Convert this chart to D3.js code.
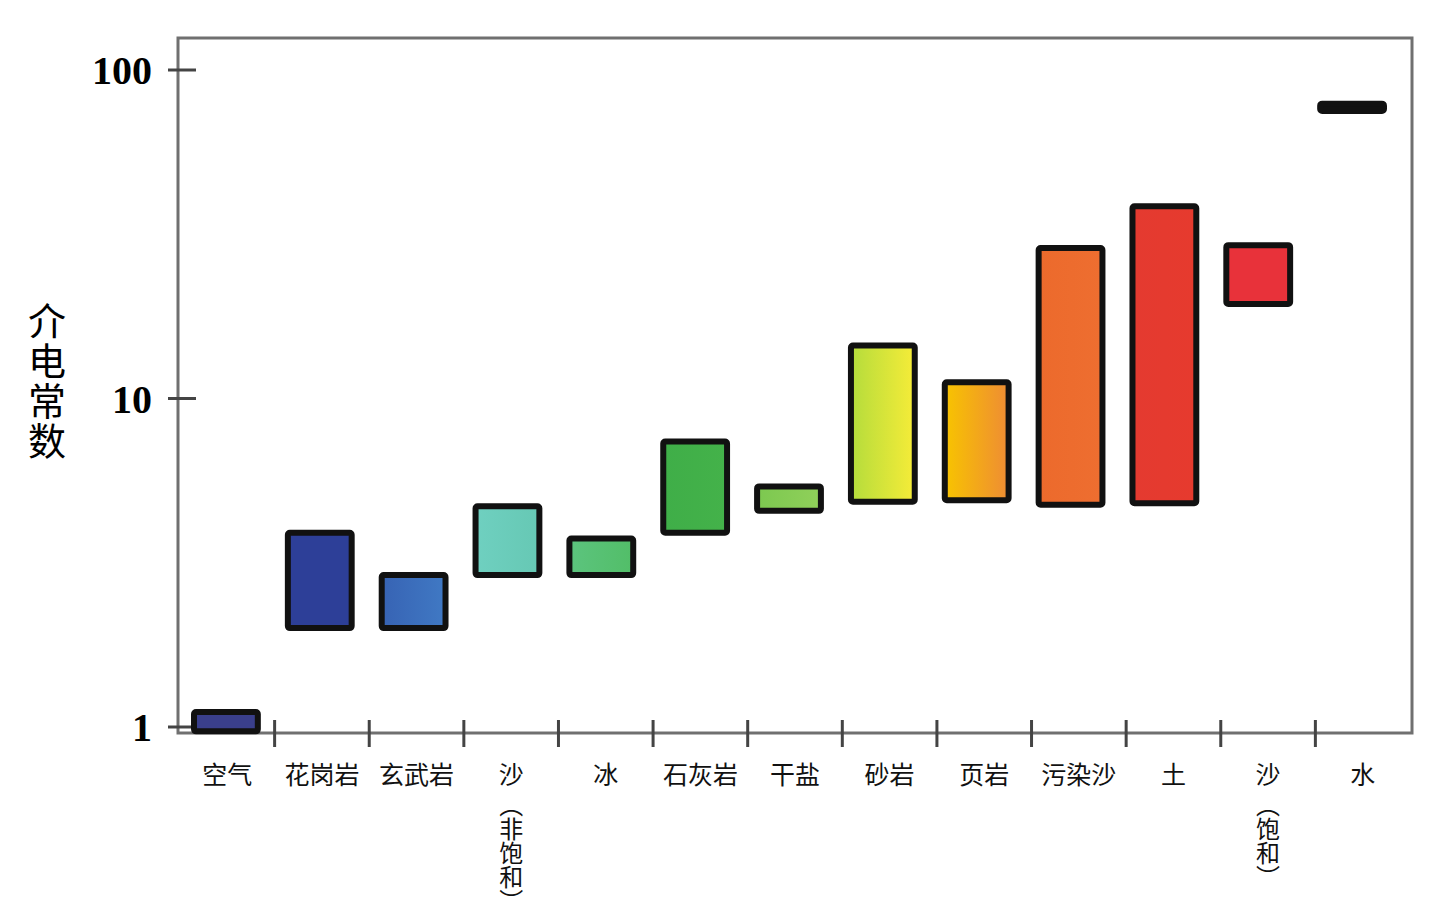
<!DOCTYPE html>
<html><head><meta charset="utf-8">
<script src="https://cdn.jsdelivr.net/npm/d3@7"></script>
<style>body{margin:0;background:#fff}svg{display:block}</style>
</head><body>
<svg id="c" width="1435" height="915"></svg>
<script>
const categories = ["空气","花岗岩","玄武岩","沙（非饱和）","冰","石灰岩","干盐","砂岩","页岩","污染沙","土","沙（饱和）","水"];
const lowValues  = [0.97, 2.0, 2.0, 2.9, 2.9, 3.9, 4.55, 4.85, 4.9, 4.75, 4.8, 19.4, 75];
const highValues = [1.11, 3.9, 2.9, 4.7, 3.75, 7.4, 5.4, 14.5, 11.2, 28.7, 38.5, 29.3, 79];
const barColors = [
  ["#3a3f8c","#3a3f8c"],["#2d3f98","#2d3f98"],["#3763b4","#4079c4"],["#6fd0c0","#66c8b4"],
  ["#5cc47e","#52be68"],["#3fae48","#44b24a"],["#7cc850","#90d05a"],["#b4dc3c","#f6ec38"],
  ["#f8c400","#ee8c34"],["#ec6a2c","#ee6e30"],["#e43a30","#e63a2e"],["#e8323a","#e8323a"],["#111","#111"]];
const yTickValues = [1, 10, 100];
const yTickLabels = ["1", "10", "100"];
const yTitle = "介电常数";

const svg = d3.select("#c");
const frame = {left:178, right:1412, top:38, bottom:733};
const x = d3.scaleBand().domain(categories).range([179, 1399]).paddingInner(0.32).paddingOuter(0.16);
const xTick = d3.scaleBand().domain(categories).range([180, 1410]);
const y = d3.scaleLog().domain([1, 100]).range([727, 70]);

// gradients
const defs = svg.append("defs");
barColors.forEach((c,i)=>{
  const g = defs.append("linearGradient").attr("id","g"+i).attr("x1","0%").attr("x2","100%");
  g.append("stop").attr("offset","0%").attr("stop-color",c[0]);
  g.append("stop").attr("offset","100%").attr("stop-color",c[1]);
});

// frame
svg.append("rect").attr("x",frame.left).attr("y",frame.top)
  .attr("width",frame.right-frame.left).attr("height",frame.bottom-frame.top)
  .attr("fill","none").attr("stroke","#707070").attr("stroke-width",3);

// x ticks (between categories)
svg.append("g").selectAll("line").data(categories.slice(1)).join("line")
  .attr("x1",d=>xTick(d)).attr("x2",d=>xTick(d))
  .attr("y1",frame.bottom-13).attr("y2",frame.bottom+14)
  .attr("stroke","#444").attr("stroke-width",3);

// y ticks
svg.append("g").selectAll("line").data(yTickValues).join("line")
  .attr("x1",168).attr("x2",196).attr("y1",d=>y(d)).attr("y2",d=>y(d))
  .attr("stroke","#444").attr("stroke-width",3);
svg.append("g").selectAll("text").data(yTickValues).join("text")
  .attr("x",152).attr("y",d=>y(d)).attr("dy","0.35em")
  .attr("text-anchor","end")
  .attr("font-family","'Liberation Serif','Times New Roman',serif")
  .attr("font-weight","bold").attr("font-size",40).attr("fill","#000")
  .text((d,i)=>yTickLabels[i]);

// y title, vertical
svg.append("text").attr("x",47).attr("y",302)
  .style("writing-mode","vertical-rl")
  .attr("font-family","'Noto Sans CJK SC',sans-serif")
  .attr("font-size",38).attr("letter-spacing",2).attr("fill","#000").text(yTitle);

// bars
svg.append("g").selectAll("rect").data(categories).join("rect")
  .attr("x",d=>x(d)).attr("width",x.bandwidth())
  .attr("y",(d,i)=>y(highValues[i]))
  .attr("height",(d,i)=>y(lowValues[i])-y(highValues[i]))
  .attr("rx",2)
  .attr("fill",(d,i)=>`url(#g${i})`)
  .attr("stroke","#111").attr("stroke-width",6);

// x labels
const lab = svg.append("g").attr("font-family","'Noto Sans CJK SC',sans-serif").attr("font-size",25).attr("fill","#111");
categories.forEach(c=>{
  const cx = xTick(c) + xTick.bandwidth()/2;
  const m = c.match(/^(.*?)(（.*）)$/);
  if(!m){
    lab.append("text").attr("x",cx).attr("y",784).attr("text-anchor","middle").text(c);
  } else {
    lab.append("text").attr("x",cx).attr("y",784).attr("text-anchor","middle").text(m[1]);
    lab.append("text").attr("x",cx).attr("y",793)
      .style("writing-mode","vertical-rl").attr("font-size",24).text(m[2]);
  }
});
</script>
</body></html>
